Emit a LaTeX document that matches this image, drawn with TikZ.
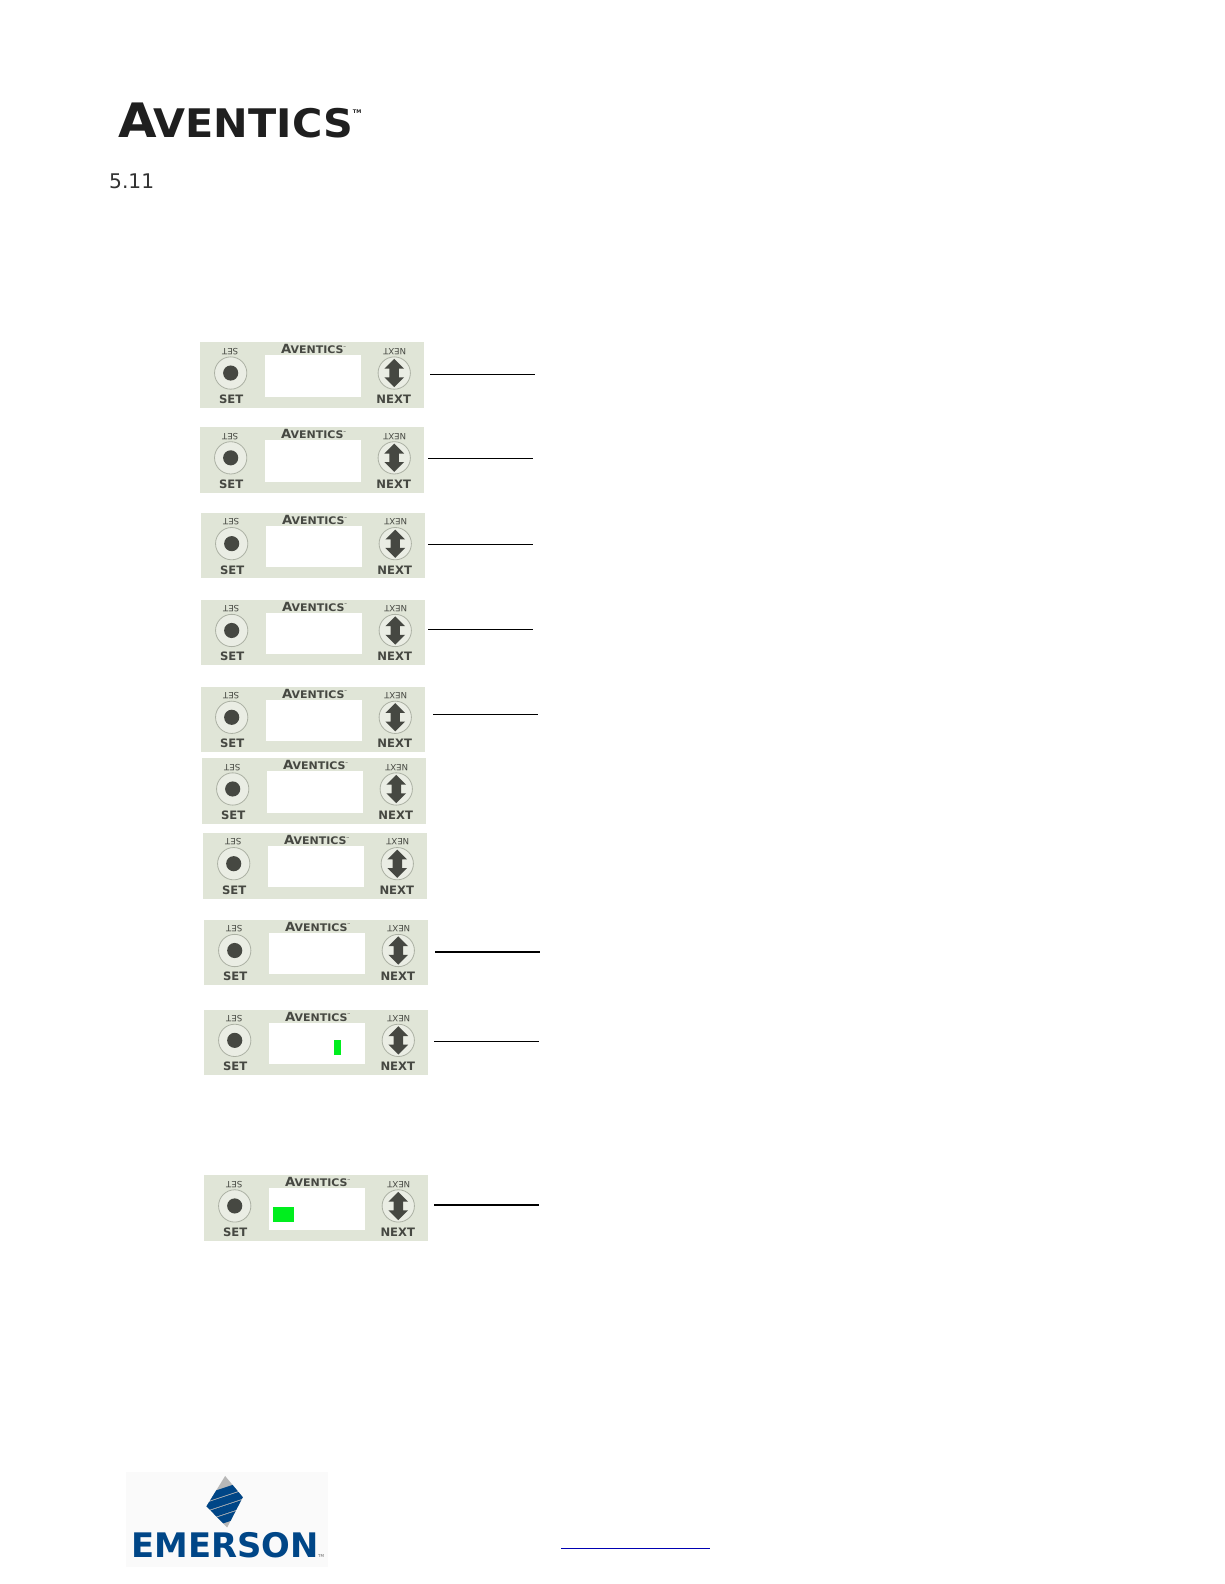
\documentclass[tikz,border=0pt]{standalone}
\usepackage{fontspec}
\setmainfont{DejaVu Sans}
\newfontfamily\logofont{DejaVu Sans}[BoldFont={DejaVu Sans Bold}]
\usetikzlibrary{positioning,shapes.arrows}
\definecolor{panelbg}{RGB}{224,229,215}
\definecolor{panelink}{RGB}{70,72,66}
\definecolor{capface}{RGB}{234,237,228}
\definecolor{caprim}{RGB}{172,177,164}
\definecolor{logoblue}{RGB}{0,70,135}
\definecolor{litgreen}{RGB}{0,238,30}
\newcommand{\aventicsmark}{{\logofont\bfseries\scalebox{1.05}[1]{\fontsize{47}{47}\selectfont A\kern-3pt\fontsize{39}{39}\selectfont VENTICS}\raisebox{24pt}{\fontsize{5}{5}\selectfont TM}}}
\tikzset{
  x=1pt,y=-1pt,
  panelbody/.style={fill=panelbg,minimum width=222pt,minimum height=65pt,inner sep=0,outer sep=0,anchor=north west},
  screenbox/.style={fill=white,minimum width=95.5pt,minimum height=41pt,inner sep=0,outer sep=0,anchor=north west},
  capbtn/.style={circle,fill=capface,draw=caprim,line width=.8pt,minimum size=32pt,inner sep=0},
  capdot/.style={circle,fill=panelink,minimum size=15pt,inner sep=0},
  updown/.style={double arrow,fill=panelink,rotate=90,minimum height=28pt,
    double arrow head extend=5pt,inner xsep=0,inner ysep=4.5pt},
  keytext/.style={text=panelink,font=\logofont\bfseries\fontsize{11.5}{11.5}\selectfont,inner sep=0},
  flipkey/.style={text=panelink,font=\logofont\fontsize{8.5}{8.5}\selectfont,inner sep=0,rotate=180},
  panelmark/.style={text=panelink,scale=.266,transform shape,inner sep=0},
  litbar/.style={fill=litgreen,inner sep=0,anchor=north west},
}
\begin{document}
\begin{tikzpicture}
\useasboundingbox (0,0) rectangle (1212.5,1569);
\fill[white] (0,0) rectangle (1212.5,1569);

\node[text=black!88,inner sep=0,anchor=base west] (logo) at (117,136) {\aventicsmark};
\node[font=\fontsize{20}{20}\selectfont,text=black!80,inner sep=0,anchor=base west] (secnum) at (108,187) {5.11};

% panels
\foreach \n/\px/\py in {1/198/339,2/198/423,3/199/508,4/199/594,5/199/680,6/200/751,7/201/825,8/202/911,9/202/1000,10/202/1164}
{
  \node[panelbody] (panel\n) at (\px,\py) {};
  \node[screenbox] (screen\n) at ([shift={(64,13)}]panel\n.north west) {};
  \node[panelmark] (mark\n) at ([shift={(112.5,7)}]panel\n.north west) {\aventicsmark};
  \node[capbtn] (setbtn\n) at ([shift={(30.5,30.5)}]panel\n.north west) {};
  \node[capdot] (setdot\n) at (setbtn\n.center) {};
  \node[capbtn] (nextbtn\n) at ([shift={(192.5,30.5)}]panel\n.north west) {};
  \node[updown] (arrow\n) at (nextbtn\n.center) {};
  \node[keytext] (setkey\n) at ([shift={(31,56.5)}]panel\n.north west) {SET};
  \node[keytext] (nextkey\n) at ([shift={(192,56.5)}]panel\n.north west) {NEXT};
  \node[flipkey] (setflip\n) at ([shift={(30,9)}]panel\n.north west) {SET};
  \node[flipkey] (nextflip\n) at ([shift={(193,9)}]panel\n.north west) {NEXT};
}

\node[litbar,minimum width=7pt,minimum height=15pt] (litdot) at (331,1030) {};
\node[litbar,minimum width=21pt,minimum height=15pt] (litrow) at (270,1195) {};

% leader lines
\foreach \n/\ax/\bx/\ly/\lw in {1/426/530/370.5/1,2/424/528/454.5/1,3/424/528/539.5/1.4,4/424/528/623.5/1.4,5/429/533/707.5/1.4,8/431/535/943/1.4,9/430/534/1031.5/1,10/430/534/1193.5/1.4}
{
  \coordinate (leadstart\n) at (\ax,\ly);
  \coordinate (leadend\n) at (\bx,\ly);
  \draw[line width=\lw pt] (leadstart\n) -- (leadend\n);
}

% emerson logo
\fill[black!2] (125,1458) rectangle (325,1552);
\begin{scope}
  \clip (223,1462) -- (240.5,1483) -- (225,1513) -- (204.5,1492) -- cycle;
  \fill[black!28] (200,1455) rectangle (245,1520);
  \foreach \by in {1474,1483,1492,1501}
    \fill[logoblue] (200,\by+7) -- (245,\by-8) -- (245,\by) -- (200,\by+15) -- cycle;
\end{scope}
\node[text=logoblue,font=\logofont\bfseries\fontsize{33.5}{33.5}\selectfont,inner sep=0,anchor=base west] (emerson) at (130,1543) {EMERSON};
\node[text=black!60,font=\logofont\fontsize{4}{4}\selectfont,inner sep=0,anchor=base west] (emersontm) at (315,1543) {TM};

\coordinate (linkstart) at (556,1534);
\coordinate (linkend) at (703,1534);
\draw[line width=1pt,color=blue!70!black] (linkstart) -- (linkend);
\end{tikzpicture}
\end{document}
